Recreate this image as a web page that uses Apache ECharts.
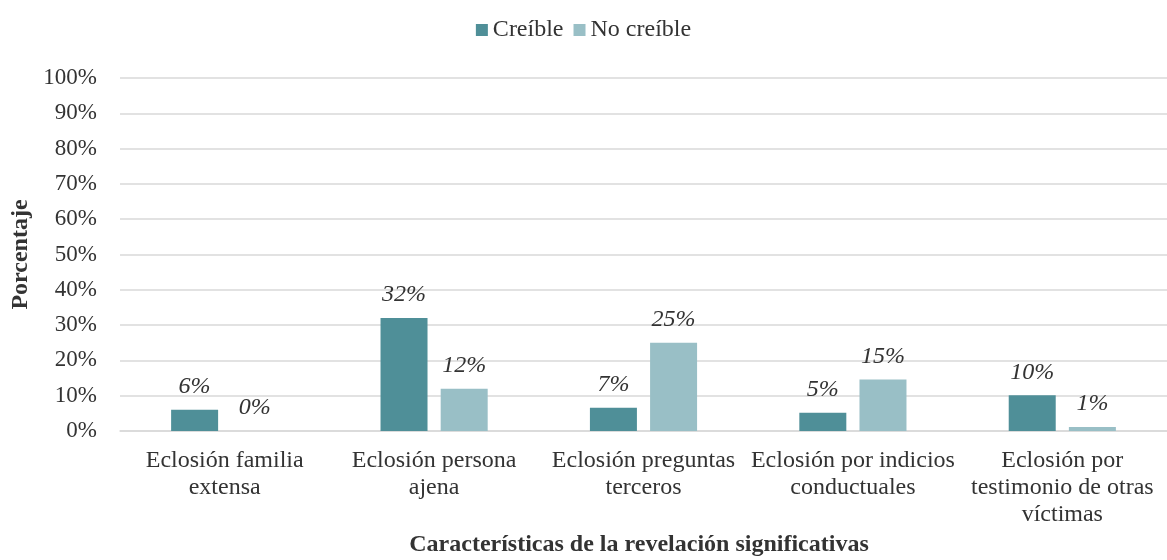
<!DOCTYPE html>
<html>
<head>
<meta charset="utf-8">
<title>Características de la revelación significativas</title>
<script src="https://cdn.jsdelivr.net/npm/echarts@6/dist/echarts.min.js"></script>
<style>
    html, body { margin: 0; padding: 0; background: #fff; }
    #chart { width: 1167px; height: 560px; }
</style>
</head>
<body>
<div id="chart"></div>
<script>
// categorias del eje X
var categorias = [
    'Eclosión familia\nextensa',
    'Eclosión persona\najena',
    'Eclosión preguntas\nterceros',
    'Eclosión por indicios\nconductuales',
    'Eclosión por\ntestimonio de otras\nvíctimas'
];
// porcentajes
var creible = [6, 32, 6.6, 5.2, 10.1];
var noCreible = [0, 12, 25, 14.6, 1.1];
var seriesNombres = ['Creíble', 'No creíble'];

var fuente = '"Liberation Serif", "Times New Roman", serif';
var colorTexto = '#333333';

function etiqueta() {
    return {
        show: true,
        position: 'top',
        distance: 11,
        fontFamily: fuente,
        fontSize: 24,
        fontStyle: 'italic',
        color: colorTexto,
        formatter: function (p) {
            return Math.round(p.value) + '%';
        }
    };
}

var option = {
    animation: false,
    textStyle: { fontFamily: fuente },
    title: {
        text: 'Características de la revelación significativas',
        left: 634,
        top: 528,
        textAlign: 'center',
        textStyle: {
            fontFamily: fuente,
            fontSize: 24,
            fontWeight: 'bold',
            color: colorTexto
        }
    },
    legend: {
        top: 13,
        left: 'center',
        itemWidth: 12,
        itemHeight: 12,
        itemGap: 10,
        icon: 'rect',
        textStyle: { fontFamily: fuente, fontSize: 24, color: colorTexto },
        data: seriesNombres
    },
    grid: {
        left: 120,
        top: 78,
        width: 1060,
        height: 353
    },
    xAxis: {
        type: 'category',
        data: categorias,
        axisLine: { show: true, lineStyle: { color: '#D9D9D9', width: 1.5 } },
        axisTick: { show: false },
        axisLabel: {
            interval: 0,
            margin: 16,
            fontFamily: fuente,
            fontSize: 24,
            lineHeight: 27,
            color: colorTexto
        }
    },
    yAxis: {
        type: 'value',
        min: 0,
        max: 100,
        interval: 10,
        name: 'Porcentaje',
        nameLocation: 'middle',
        nameGap: 86,
        nameTextStyle: { fontFamily: fuente, fontSize: 24, fontWeight: 'bold', color: colorTexto },
        axisLine: { show: false },
        axisTick: { show: false },
        splitLine: { lineStyle: { color: '#D9D9D9', width: 1.5 } },
        axisLabel: {
            margin: 23,
            fontFamily: fuente,
            fontSize: 23,
            color: colorTexto,
            formatter: '{value}%'
        }
    },
    series: [
        {
            name: seriesNombres[0],
            type: 'bar',
            data: creible,
            barWidth: 47,
            barGap: '28%',
            itemStyle: { color: '#4F8F98' },
            label: etiqueta()
        },
        {
            name: seriesNombres[1],
            type: 'bar',
            data: noCreible,
            barWidth: 47,
            itemStyle: { color: '#99BFC6' },
            label: etiqueta()
        }
    ]
};

var chart = echarts.init(document.getElementById('chart'));
chart.setOption(option);
</script>
</body>
</html>
